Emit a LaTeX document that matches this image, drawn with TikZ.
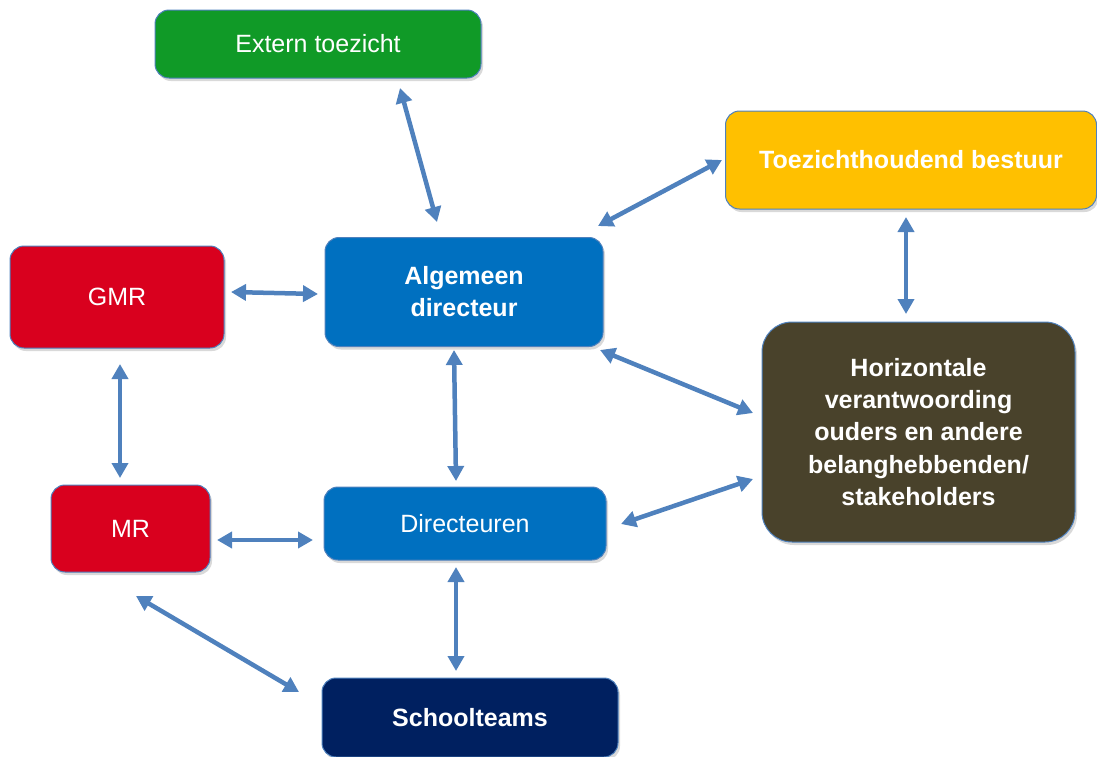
\documentclass[tikz,border=0pt]{standalone}
\usepackage{fontspec}
\setmainfont{Liberation Sans}
\usetikzlibrary{arrows.meta,shadows,calc}
\definecolor{cgreen}{HTML}{109A27}
\definecolor{cyellow}{HTML}{FFC000}
\definecolor{cred}{HTML}{D9001E}
\definecolor{cblue}{HTML}{0070C0}
\definecolor{cbrown}{HTML}{49422B}
\definecolor{cnavy}{HTML}{002060}
\definecolor{cline}{HTML}{4F81BD}
\tikzset{
  box/.style={draw=cline, line width=1pt, rounded corners=14pt, text=white,
    align=center, inner sep=0pt, font=\fontsize{25}{32}\selectfont,
    drop shadow={opacity=0.3, shadow xshift=2pt, shadow yshift=-3pt}},
  boldbox/.style={box, font=\fontsize{25}{32}\selectfont\bfseries},
  conn/.style={cline, line width=4.5pt, {Triangle[length=15pt,width=16pt]}-{Triangle[length=15pt,width=16pt]}}
}
\begin{document}
\begin{tikzpicture}[x=1pt,y=-1pt]
\useasboundingbox (0,0) rectangle (1097,756);
\node[box, fill=cgreen, minimum width=326pt, minimum height=68pt] (ext) at (318,44) {Extern toezicht};
\node[boldbox, fill=cyellow, minimum width=371pt, minimum height=98pt] (toe) at (911,160) {Toezichthoudend bestuur};
\node[box, fill=cred, minimum width=214pt, minimum height=102pt] (gmr) at (117,297) {GMR};
\node[boldbox, fill=cblue, minimum width=278pt, minimum height=109pt] (alg) at (464,292) {Algemeen\\directeur};
\node[boldbox, fill=cbrown, minimum width=313pt, minimum height=220pt, rounded corners=30pt, font=\fontsize{25}{32.2}\selectfont\bfseries] (hor) at (918.5,432) {Horizontale\\verantwoording\\ouders en andere\\belanghebbenden/\\stakeholders};
\node[box, fill=cred, minimum width=159pt, minimum height=87pt] (mr) at (130.5,528.5) {MR};
\node[box, fill=cblue, minimum width=282pt, minimum height=73pt] (dir) at (465,523.5) {Directeuren};
\node[boldbox, fill=cnavy, minimum width=296pt, minimum height=79pt] (sch) at (470,717.5) {Schoolteams};
% connector end points
\coordinate (a1) at (400,88); \coordinate (b1) at (437,222);
\coordinate (a2) at (722,160); \coordinate (b2) at (598,226);
\coordinate (a3) at (231,292); \coordinate (b3) at (318,294);
\coordinate (a4) at (906,217); \coordinate (b4) at (906,314);
\coordinate (a5) at (120,364); \coordinate (b5) at (120,478);
\coordinate (a6) at (454,350); \coordinate (b6) at (456,481);
\coordinate (a7) at (600,350); \coordinate (b7) at (753,413);
\coordinate (a8) at (753,479); \coordinate (b8) at (621,524);
\coordinate (a9) at (217,540); \coordinate (b9) at (313,540);
\coordinate (a10) at (456,567); \coordinate (b10) at (456,671);
\coordinate (a11) at (136,596); \coordinate (b11) at (299,692);
\draw[conn] (a1) -- (b1);
\draw[conn] (a2) -- (b2);
\draw[conn] (a3) -- (b3);
\draw[conn] (a4) -- (b4);
\draw[conn] (a5) -- (b5);
\draw[conn] (a6) -- (b6);
\draw[conn] (a7) -- (b7);
\draw[conn] (a8) -- (b8);
\draw[conn] (a9) -- (b9);
\draw[conn] (a10) -- (b10);
\draw[conn] (a11) -- (b11);
\end{tikzpicture}
\end{document}
